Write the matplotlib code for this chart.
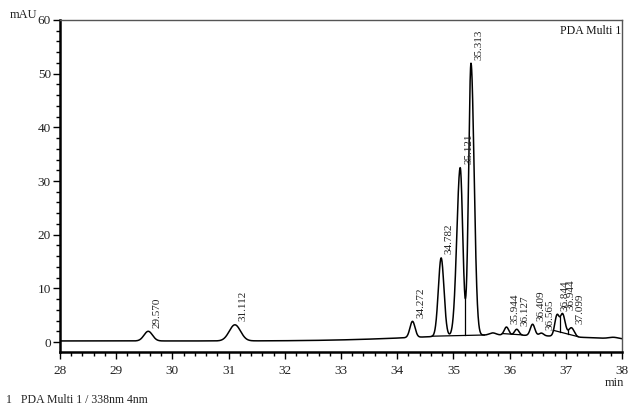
import numpy as np
import matplotlib
matplotlib.use("Agg")
from matplotlib import pyplot as plt
from matplotlib.ticker import MultipleLocator

# peak table (height above the drift, mAU)
peak_rt = [29.570, 31.112, 34.272, 34.782, 35.121, 35.313,
           35.944, 36.127, 36.409, 36.565, 36.844, 36.944, 37.099]
peak_height = [1.8, 3.0, 3.0, 14.6, 31.3, 50.7,
               1.5, 1.1, 2.1, 0.5, 3.9, 4.1, 1.7]
sigma_left = [0.075, 0.10, 0.045, 0.050, 0.060, 0.042,
              0.040, 0.040, 0.040, 0.040, 0.040, 0.040, 0.050]
sigma_right = [0.075, 0.10, 0.045, 0.050, 0.045, 0.055,
               0.040, 0.040, 0.040, 0.040, 0.040, 0.045, 0.050]

# small unlabeled bumps and the slow baseline drift
bump_rt = [35.70, 37.85, 35.80]
bump_height = [0.4, 0.25, 1.1]
bump_sigma = [0.06, 0.08, 1.5]
drift_offset = 0.2

# integration baselines and valley drop lines
baseline_segments = [(34.62, 35.55), (35.87, 36.22), (36.78, 37.22)]
drop_pairs = [(35.121, 35.313), (36.844, 36.944), (36.944, 37.099)]

plt.rcParams['font.family'] = ['Liberation Serif', 'DejaVu Serif']


def build_trace(t):
    y = np.full_like(t, drift_offset)
    for rt, h, sl, sr in zip(peak_rt, peak_height, sigma_left, sigma_right):
        s = np.where(t < rt, sl, sr)
        y += h * np.exp(-0.5 * ((t - rt) / s) ** 2)
    for rt, h, s in zip(bump_rt, bump_height, bump_sigma):
        y += h * np.exp(-0.5 * ((t - rt) / s) ** 2)
    return y


t = np.linspace(28, 38, 4001)
y = build_trace(t)

fig = plt.figure(figsize=(6.34, 4.09), dpi=100)
ax = fig.add_axes([60 / 634, 1 - 352 / 409, 562 / 634, 332 / 409])

ax.plot(t, y, color='black', lw=1.1)

# integration marks
for t0, t1 in baseline_segments:
    ax.plot([t0, t1], [np.interp(t0, t, y), np.interp(t1, t, y)], color='black', lw=0.9)
for a, b in drop_pairs:
    m = (t > a) & (t < b)
    tv = t[m][np.argmin(y[m])]
    for t0, t1 in baseline_segments:
        if t0 <= tv <= t1:
            yb = np.interp(tv, [t0, t1], [np.interp(t0, t, y), np.interp(t1, t, y)])
    ax.plot([tv, tv], [yb, np.interp(tv, t, y)], color='black', lw=0.9)

# retention time labels
for rt in peak_rt:
    apex = np.interp(rt, t, y)
    ax.annotate(f"{rt:.3f}", xy=(rt, apex), xytext=(6, 2.5), textcoords='offset points',
                rotation=90, ha='center', va='bottom', fontsize=8, color='#222222')

ax.set_xlim(28, 38)
ax.set_ylim(-1.86, 60)
ax.xaxis.set_major_locator(MultipleLocator(1))
ax.xaxis.set_minor_locator(MultipleLocator(0.2))
ax.yaxis.set_major_locator(MultipleLocator(10))
ax.yaxis.set_minor_locator(MultipleLocator(2))
ax.set_yticks(range(0, 61, 10))
ax.tick_params(which='both', direction='out', width=1, colors='black', labelsize=9.5,
               labelcolor='#222222')
ax.tick_params(which='major', length=5)
ax.tick_params(which='minor', length=3)
ax.tick_params(axis='x', pad=4)
ax.tick_params(axis='y', pad=1.5)

for side in ['left', 'bottom']:
    ax.spines[side].set_linewidth(1.8)
for side in ['top', 'right']:
    ax.spines[side].set_linewidth(1.0)
    ax.spines[side].set_color('#555555')

ax.text(0.998, 0.985, 'PDA Multi 1', transform=ax.transAxes, ha='right', va='top',
        fontsize=8.5, color='#111111')
fig.text(10 / 634, 1 - 15 / 409, 'mAU', ha='left', va='center', fontsize=9, color='#222222')
fig.text(624 / 634, 1 - 383 / 409, 'min', ha='right', va='center', fontsize=9, color='#222222')
fig.text(6 / 634, 1 - 400 / 409, '1   PDA Multi 1 / 338nm 4nm', ha='left', va='center',
         fontsize=8.5, color='#222222')

fig.savefig('out.png', dpi=100)
